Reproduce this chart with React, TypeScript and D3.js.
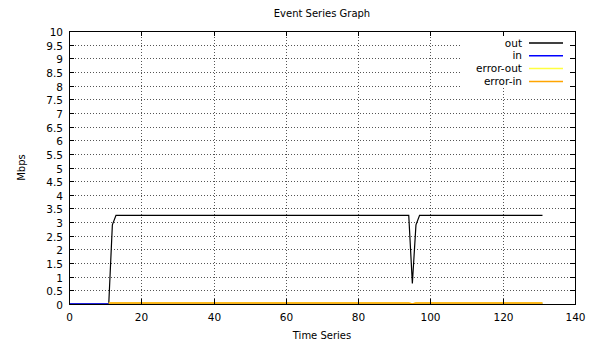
import React, { useEffect, useRef } from 'react';
import * as d3 from 'd3';

// breakpoints of each series, [time, Mbps]
const outSeries: [number, number][] = [
  [0, 0], [11, 0], [12, 2.9], [13, 3.25], [94, 3.25], [95, 0.75], [96, 2.9], [97, 3.25], [131, 3.25],
];
const inSeries: [number, number][] = [[0, 0], [131, 0]];
const errorOutSeries: [number, number][] = [
  [11, 0.04], [94, 0.04], [95, 0], [96, 0.04], [131, 0.04],
];
const errorInSeries: [number, number][] = [
  [11, 0.04], [94, 0.04], [95, 0], [96, 0.04], [131, 0.04],
];

const seriesNames = ['out', 'in', 'error-out', 'error-in'];
const seriesColors = ['#000000', '#0000ff', '#ffff40', '#ffa500'];

const xTicks = [0, 20, 40, 60, 80, 100, 120, 140];
const yTicks = [0, 0.5, 1, 1.5, 2, 2.5, 3, 3.5, 4, 4.5, 5, 5.5, 6, 6.5, 7, 7.5, 8, 8.5, 9, 9.5, 10];

const FONT = 'DejaVu Sans, sans-serif';

const App: React.FC = () => {
  const svgRef = useRef<SVGSVGElement>(null);

  useEffect(() => {
    if (!svgRef.current) return;
    const svg = d3.select(svgRef.current);
    svg.selectAll('*').remove();

    const width = 596;
    const height = 347;
    const margin = { top: 31, right: 21, bottom: 43, left: 69 };
    const innerWidth = width - margin.left - margin.right;
    const innerHeight = height - margin.top - margin.bottom;

    const x = d3.scaleLinear().domain([0, 140]).range([0, innerWidth]);
    const y = d3.scaleLinear().domain([0, 10]).range([innerHeight, 0]);

    svg.append('rect').attr('width', width).attr('height', height).attr('fill', '#fff');

    svg.append('text')
      .attr('x', margin.left + innerWidth / 2)
      .attr('y', 17)
      .attr('text-anchor', 'middle')
      .attr('font-family', FONT)
      .style('font-size', '10px')
      .style('fill', '#000')
      .text('Event Series Graph');

    const g = svg.append('g').attr('transform', `translate(${margin.left},${margin.top})`);

    // grid
    g.append('g').selectAll('line')
      .data(yTicks.slice(1, -1))
      .enter().append('line')
      .attr('x1', 0).attr('x2', innerWidth)
      .attr('y1', (d: number) => Math.round(y(d)) + 0.5).attr('y2', (d: number) => Math.round(y(d)) + 0.5)
      .attr('stroke', '#555').attr('stroke-width', 1).attr('stroke-dasharray', '1,2');
    g.append('g').selectAll('line')
      .data(xTicks.slice(1, -1))
      .enter().append('line')
      .attr('x1', (d: number) => Math.round(x(d)) + 0.5).attr('x2', (d: number) => Math.round(x(d)) + 0.5)
      .attr('y1', 0).attr('y2', innerHeight)
      .attr('stroke', '#555').attr('stroke-width', 1).attr('stroke-dasharray', '1,2');

    // legend background covers grid
    g.append('rect')
      .attr('x', 391).attr('y', 4)
      .attr('width', 112).attr('height', 53)
      .attr('fill', '#fff');

    // series
    const line = d3.line<[number, number]>()
      .x((d) => x(d[0]))
      .y((d) => y(d[1]));
    const all = [outSeries, inSeries, errorOutSeries, errorInSeries];
    all.forEach((s, i) => {
      g.append('path')
        .datum(s)
        .attr('d', line)
        .attr('fill', 'none')
        .attr('stroke', seriesColors[i])
        .attr('stroke-width', i === 0 ? 1.2 : 1.5);
    });

    // border
    g.append('rect')
      .attr('x', 0.5).attr('y', 0.5)
      .attr('width', innerWidth).attr('height', innerHeight)
      .attr('fill', 'none').attr('stroke', '#000').attr('stroke-width', 1);

    // ticks (inward, mirrored)
    const tl = 5;
    yTicks.forEach((t) => {
      const yy = Math.round(y(t)) + 0.5;
      g.append('line').attr('x1', 0).attr('x2', tl).attr('y1', yy).attr('y2', yy).attr('stroke', '#000');
      g.append('line').attr('x1', innerWidth - tl).attr('x2', innerWidth).attr('y1', yy).attr('y2', yy).attr('stroke', '#000');
      g.append('text')
        .attr('x', -6).attr('y', yy + 4)
        .attr('text-anchor', 'end')
        .attr('font-family', FONT)
        .style('font-size', '10.5px')
        .style('fill', '#000')
        .text(String(t));
    });
    xTicks.forEach((t) => {
      const xx = Math.round(x(t)) + 0.5;
      g.append('line').attr('x1', xx).attr('x2', xx).attr('y1', innerHeight).attr('y2', innerHeight - tl).attr('stroke', '#000');
      g.append('line').attr('x1', xx).attr('x2', xx).attr('y1', 0).attr('y2', tl).attr('stroke', '#000');
      g.append('text')
        .attr('x', xx).attr('y', innerHeight + 17)
        .attr('text-anchor', 'middle')
        .attr('font-family', FONT)
        .style('font-size', '10.5px')
        .style('fill', '#000')
        .text(String(t));
    });

    // axis titles
    g.append('text')
      .attr('x', innerWidth / 2).attr('y', innerHeight + 35)
      .attr('text-anchor', 'middle')
      .attr('font-family', FONT)
      .style('font-size', '10px')
      .style('fill', '#000')
      .text('Time Series');
    g.append('text')
      .attr('transform', 'rotate(-90)')
      .attr('x', -innerHeight / 2).attr('y', -44)
      .attr('text-anchor', 'middle')
      .attr('font-family', FONT)
      .style('font-size', '10px')
      .style('fill', '#000')
      .text('Mbps');

    // legend
    seriesNames.forEach((name, i) => {
      const ly = 12 + i * 12.8;
      g.append('text')
        .attr('x', 453).attr('y', ly + 3.5)
        .attr('text-anchor', 'end')
        .attr('font-family', FONT)
        .style('font-size', '10.5px')
        .style('fill', '#000')
        .text(name);
      g.append('line')
        .attr('x1', 460).attr('x2', 494)
        .attr('y1', ly).attr('y2', ly)
        .attr('stroke', seriesColors[i])
        .attr('stroke-width', 1.5);
    });
  }, []);

  return (
    <div style={{ position: 'fixed', left: 0, top: 0 }}>
      <svg ref={svgRef} width={596} height={347} style={{ display: 'block' }} />
    </div>
  );
};

export default App;
